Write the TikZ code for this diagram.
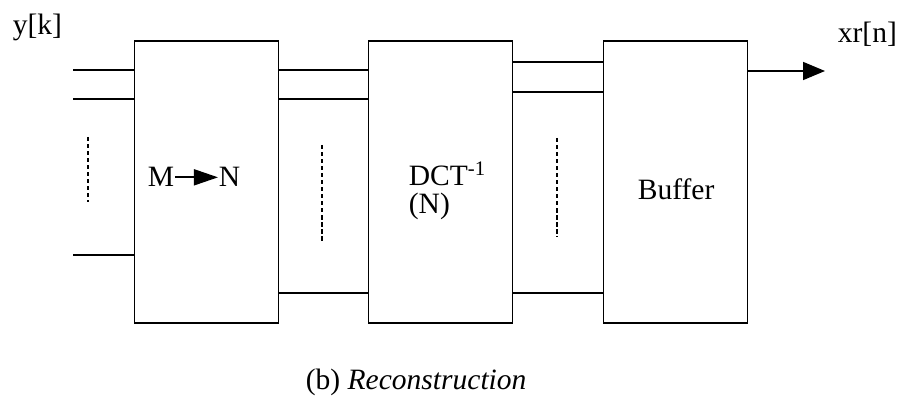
\documentclass[tikz,border=0pt]{standalone}
\usepackage{fontspec}
\setmainfont{Liberation Serif}
\usetikzlibrary{arrows.meta}

\begin{document}
\begin{tikzpicture}[x=0.025cm,y=-0.025cm,line width=1.2pt,
  font=\fontsize{21}{24}\selectfont,
  blk/.style={draw,inner sep=0pt,minimum width=3.6cm,minimum height=7.05cm},
  lbl/.style={inner sep=0pt,anchor=base west},
  gap/.style={line width=0.8pt,dash pattern=on 3pt off 2pt}]
\path[use as bounding box] (0,0) rectangle (902,419);
% blocks
\node[blk] (mn) at (206.5,182) {};
\node[blk] (idct) at (440.5,182) {};
\node[blk] (buf) at (675.5,182) {};
% texts
\node[lbl] (ylab) at (12,35) {y[k]};
\node[lbl] (xlab) at (837,43) {xr[n]};
\node[lbl] (m) at (147,187) {M};
\node[lbl] (n) at (218,187) {N};
\draw[-{Triangle[length=0.6cm,width=0.4cm]}] (m.east) -- (n.west);
\node[lbl] (dct) at (408,186) {DCT\textsuperscript{-1}};
\node[lbl] (dctn) at (408,214) {(N)};
\node[lbl] (buftxt) at (637,200) {Buffer};
\node[lbl] (cap) at (305,390) {(b) \textit{Reconstruction}};
% inputs
\coordinate (in1) at (73,70);
\coordinate (in2) at (73,99);
\coordinate (in3) at (73,255);
\foreach \c in {in1,in2,in3}
  \draw (\c) -- (mn.west |- \c);
% between blocks
\foreach \yy in {70,99,293}
  \draw (mn.east |- 0,\yy) -- (idct.west |- 0,\yy);
\foreach \yy in {62,92,293}
  \draw (idct.east |- 0,\yy) -- (buf.west |- 0,\yy);
% output
\coordinate (out) at (825,71);
\draw[-{Triangle[length=0.55cm,width=0.45cm]}] (buf.east |- out) -- (out);
% dots for the other lines
\draw[gap] (88,137) -- (88,202);
\draw[gap] (322,145) -- (322,242);
\draw[gap] (557,138) -- (557,237);
\end{tikzpicture}
\end{document}
